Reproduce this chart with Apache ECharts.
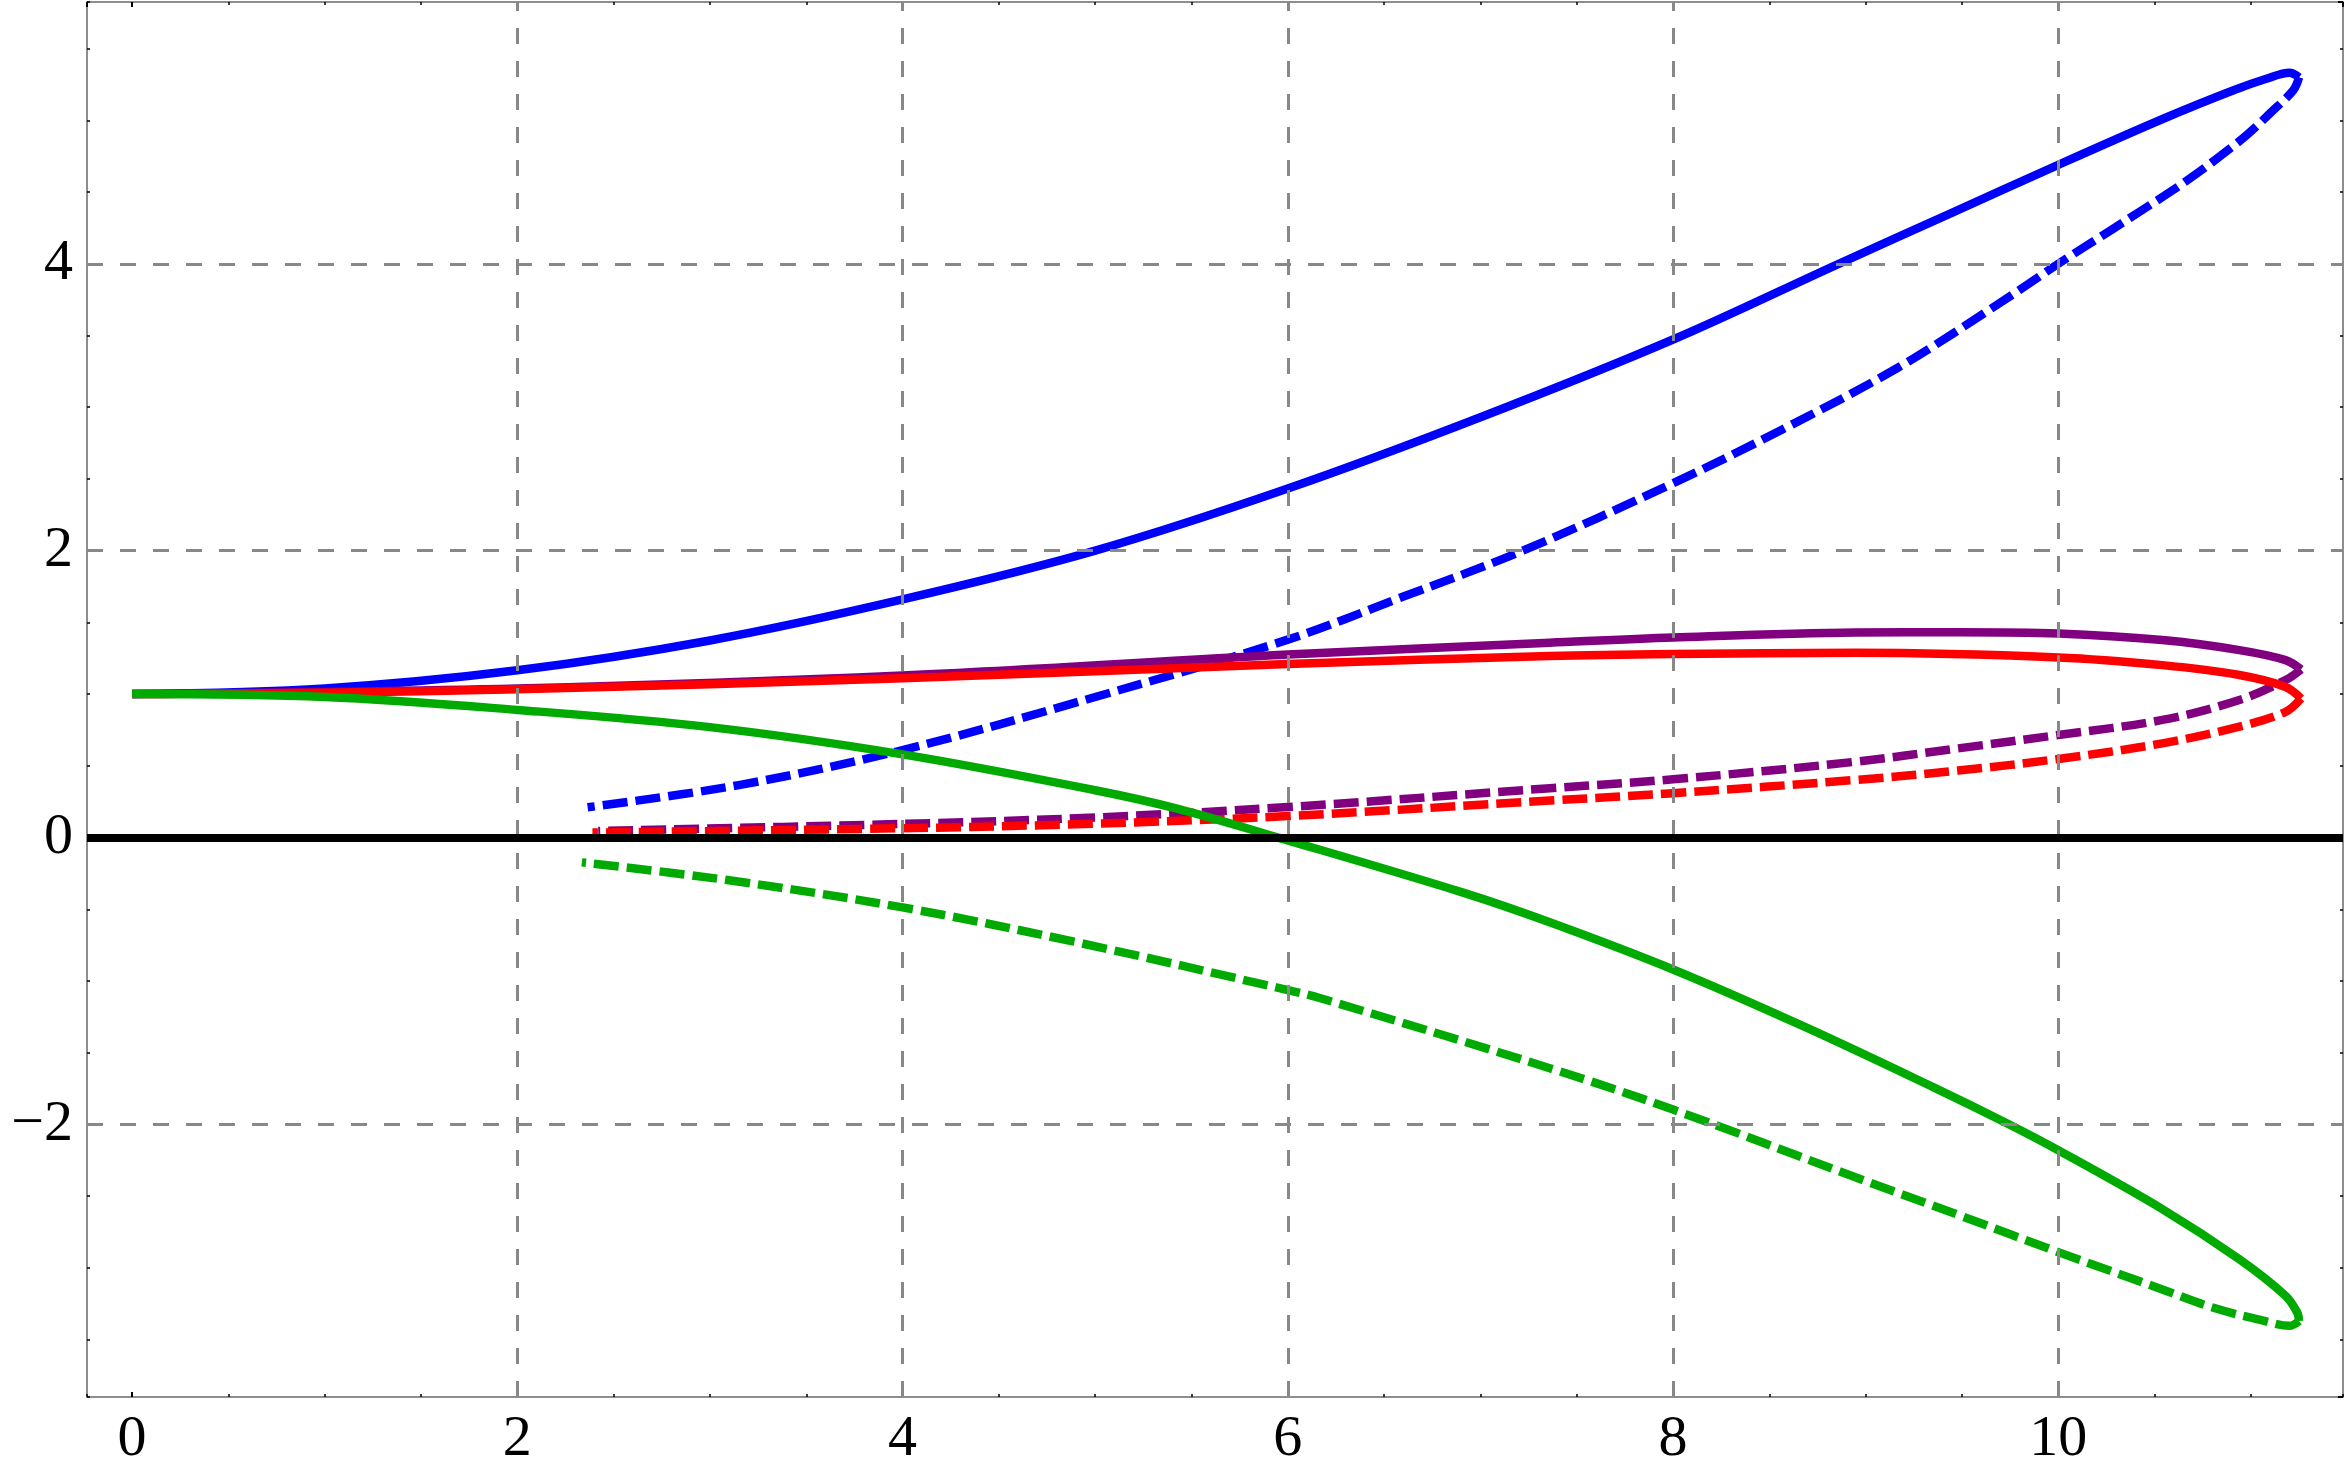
<!DOCTYPE html>
<html>
<head>
<meta charset="utf-8">
<script src="https://cdn.jsdelivr.net/npm/echarts@6/dist/echarts.min.js"></script>
<style>html,body{margin:0;padding:0;background:#fff;}#chart{width:2350px;height:1479px;}</style>
</head>
<body>
<div id="chart"></div>
<script>
// axis ranges and tick/grid values
const X_RANGE = [-0.234, 11.478];
const Y_RANGE = [-3.9, 5.825];
const gridX = [2, 4, 6, 8, 10];
const gridY = [-2, 2, 4];
const zeroY = [0];

// curves: [x, y] pairs
const blueSolid = [[0,1],[1,1.04],[2,1.166],[3,1.374],[4,1.66],[5,2.0],[6,2.433],[7,2.93],[8,3.472],[8.86,4.0],[9.45,4.356],[10,4.69],[10.56,5.02],[10.91,5.21],[11.08,5.29],[11.2,5.332],[11.25,5.30]];
const blueDashed = [[11.25,5.30],[11.22,5.21],[11.1,5.05],[10.98,4.9],[10.84,4.75],[10.72,4.63],[10.58,4.5],[10.43,4.37],[10.28,4.24],[10,4.0],[9.7,3.73],[9.16,3.27],[8.56,2.84],[8,2.47],[7.22,2.0],[6.6,1.68],[6,1.38],[5,0.98],[4,0.61],[3.15,0.366],[2.365,0.211]];
const redSolid = [[0,1],[1,1.01],[2,1.034],[4,1.11],[6,1.21],[7.36,1.265],[8,1.279],[8.95,1.288],[10,1.256],[10.54,1.202],[10.94,1.133],[11.18,1.05],[11.26,0.97]];
const redDashed = [[11.26,0.97],[11.18,0.877],[10.94,0.773],[10.54,0.657],[10,0.548],[9.48,0.467],[8.95,0.402],[8,0.309],[7.36,0.258],[6,0.15],[5,0.097],[4,0.065],[2.39,0.035]];
const purpleSolid = [[0,1],[2,1.04],[4,1.13],[6,1.276],[7.36,1.358],[8,1.395],[8.95,1.43],[9.48,1.432],[10,1.423],[10.54,1.377],[10.94,1.307],[11.18,1.237],[11.26,1.172]];
const purpleDashed = [[11.26,1.172],[11.18,1.098],[10.94,0.959],[10.54,0.82],[10,0.715],[9.48,0.622],[8.95,0.529],[8,0.406],[7.36,0.344],[6,0.213],[5,0.14],[4,0.095],[2.42,0.046]];
const greenSolid = [[0,1],[1,0.98],[2,0.89],[3,0.77],[4,0.58],[5,0.33],[5.43,0.2],[5.95,0],[6.91,-0.384],[7.36,-0.591],[8,-0.92],[8.69,-1.324],[9.35,-1.74],[9.73,-1.99],[10,-2.18],[10.54,-2.59],[10.94,-2.94],[11.18,-3.195],[11.24,-3.31],[11.25,-3.37]];
const greenDashed = [[11.25,-3.37],[11.2,-3.404],[11.07,-3.37],[10.81,-3.28],[10.54,-3.15],[10,-2.89],[9.48,-2.63],[8.95,-2.37],[8,-1.896],[7.36,-1.608],[6.17,-1.12],[6,-1.063],[4.89,-0.726],[4,-0.487],[3.09,-0.296],[2.335,-0.173]];

const FONT = 'Liberation Serif';
const fmt = v => String(v).replace('-', '\u2212');

function majorAxis(pos, range, showLabels, margin) {
  return {
    type: 'value', position: pos, min: range[0], max: range[1], splitNumber: 5,
    axisLine: { show: false, onZero: false },
    axisTick: { show: true, inside: true, length: 5, lineStyle: { color: '#000', width: 2 } },
    axisLabel: { show: showLabels, showMinLabel: false, showMaxLabel: false, fontFamily: FONT, fontSize: 58, color: '#000', margin: margin, formatter: fmt },
    splitLine: { show: false }
  };
}
function minorAxis(pos, range, split) {
  return {
    type: 'value', position: pos, min: range[0], max: range[1], splitNumber: split,
    axisLine: { show: false, onZero: false },
    axisTick: { show: true, inside: true, length: 3, lineStyle: { color: '#000', width: 1.5 } },
    axisLabel: { show: false },
    splitLine: { show: false }
  };
}

const dashed = [25, 8];
function curve(name, data, color, dash) {
  return {
    name: name, type: 'line', data: data, showSymbol: false, symbol: 'none', smooth: 0.35,
    xAxisIndex: 0, yAxisIndex: 0, clip: true,
    lineStyle: { color: color, width: 8.5, type: dash ? dashed : 'solid', cap: 'butt', join: 'round' }
  };
}

const chart = echarts.init(document.getElementById('chart'), null, { renderer: 'canvas' });
chart.setOption({
  animation: false,
  backgroundColor: '#fff',
  grid: { left: 87, right: 7, top: 2, bottom: 82, show: true, borderColor: '#6a6a6a', borderWidth: 1.5, backgroundColor: 'transparent' },
  xAxis: [
    majorAxis('bottom', X_RANGE, true, 14),
    minorAxis('bottom', X_RANGE, 23),
    majorAxis('top', X_RANGE, false, 8),
    minorAxis('top', X_RANGE, 23)
  ],
  yAxis: [
    majorAxis('left', Y_RANGE, true, 14),
    minorAxis('left', Y_RANGE, 19),
    majorAxis('right', Y_RANGE, false, 8),
    minorAxis('right', Y_RANGE, 19)
  ],
  series: [
    {
      name: 'grid', type: 'line', data: [[0, 1]], showSymbol: false, symbol: 'none',
      lineStyle: { opacity: 0 }, silent: true,
      markLine: {
        silent: true, symbol: 'none', animation: false,
        label: { show: false },
        lineStyle: { color: '#888', width: 3, type: [16, 17] },
        data: gridX.map(v => ({ xAxis: v })).concat(gridY.map(v => ({ yAxis: v })))
      }
    },
    {
      name: 'zero', type: 'line', data: [[0, 1]], showSymbol: false, symbol: 'none',
      lineStyle: { opacity: 0 }, silent: true,
      markLine: {
        silent: true, symbol: 'none', animation: false,
        label: { show: false },
        lineStyle: { color: '#000', width: 8, type: 'solid' },
        data: zeroY.map(v => ({ yAxis: v }))
      }
    },
    curve('blue', blueSolid, '#0000ff', false),
    curve('blue dashed', blueDashed, '#0000ff', true),
    curve('purple', purpleSolid, '#800080', false),
    curve('purple dashed', purpleDashed, '#800080', true),
    curve('red', redSolid, '#ff0000', false),
    curve('red dashed', redDashed, '#ff0000', true),
    curve('green', greenSolid, '#00aa00', false),
    curve('green dashed', greenDashed, '#00aa00', true)
  ]
});
</script>
</body>
</html>
